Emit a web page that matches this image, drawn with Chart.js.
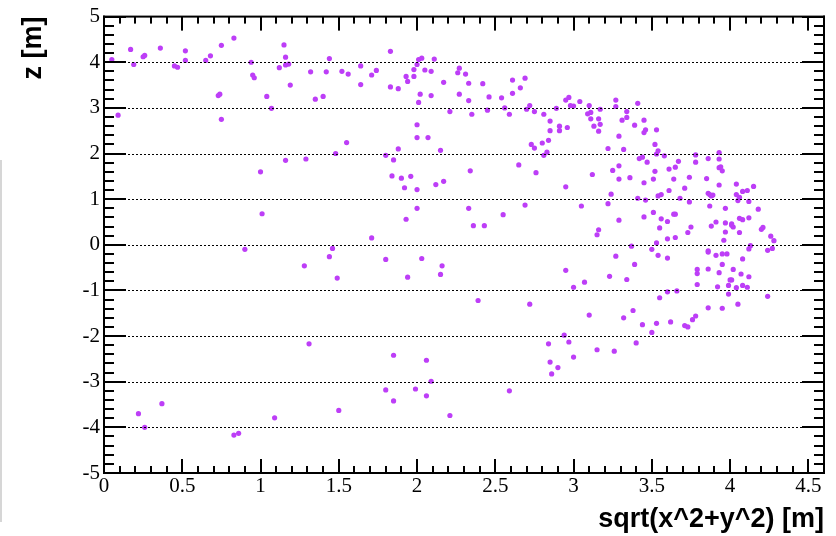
<!DOCTYPE html>
<html>
<head>
<meta charset="utf-8">
<script src="https://cdn.jsdelivr.net/npm/chart.js@4/dist/chart.umd.min.js"></script>
<style>
  html, body { margin: 0; padding: 0; background: #fff; }
</style>
</head>
<body>
<canvas id="scatterChart" width="836" height="536"></canvas>
<script>
// radial distance sqrt(x^2+y^2) [m]
const rVals = [
  0.05, 0.09, 0.17, 0.19, 0.25, 0.26, 0.36, 0.45, 0.47, 0.52, 0.52, 0.65, 0.68, 0.75, 0.83, 0.73, 0.74, 0.75,
  0.94, 0.95, 0.96, 1.04, 1.07, 1.12, 1.00, 1.01, 0.90,
  1.15, 1.16, 1.16, 1.18, 1.19, 1.32, 1.35, 1.40, 1.44, 1.42, 1.52, 1.56, 1.64, 1.64, 1.71, 1.74, 1.83, 1.83,
  1.88, 1.93, 1.94, 1.98, 1.98, 2.00, 2.01, 2.03, 2.02, 2.01, 2.05, 2.09, 2.11, 2.09, 2.17, 2.21, 2.26, 2.27,
  2.31, 2.27, 2.33, 2.33, 2.35, 2.42, 2.46, 2.45, 2.54, 2.56, 2.59, 2.61, 2.61, 2.66, 2.69, 2.70, 2.72, 2.75,
  2.81, 2.85, 2.85, 2.84, 2.83, 2.80, 2.73, 2.75, 2.81, 2.65, 2.76, 2.69, 2.55, 2.43, 2.36, 2.33, 2.34, 2.00,
  2.00, 2.07, 2.15, 1.88, 1.80, 1.85, 1.84, 1.90, 1.96, 1.92, 2.00, 2.12, 2.17, 2.00, 1.93, 1.71, 1.46, 1.55,
  1.48, 1.29, 1.16,
  2.89, 2.91, 2.91, 2.95, 2.97, 2.98, 3.00, 3.04, 2.96, 2.95, 3.05, 3.10, 3.09, 3.11, 3.11, 3.13, 3.16, 3.17,
  3.16, 3.17, 3.22, 3.12, 3.25, 3.24, 3.22, 3.29, 3.29, 3.29, 3.16, 3.15, 3.27, 3.27, 3.29, 3.31, 3.34, 3.34,
  3.32, 3.36, 3.39, 3.41, 3.45, 3.45, 3.46, 3.53, 3.42, 3.44, 3.47, 3.45, 3.41, 3.46, 3.45, 3.52, 3.53, 3.54,
  3.58, 3.52, 3.51, 3.54, 3.56, 3.51, 3.55, 3.56, 3.60, 3.61, 3.61, 3.65, 3.67, 3.64, 3.68, 3.71, 3.64, 3.65,
  3.60, 3.65, 3.53, 3.50, 3.37, 3.74, 3.74, 3.75, 3.73, 3.78, 3.78, 3.86, 3.85, 3.86, 3.87, 3.88, 3.89, 3.87,
  3.88, 3.91, 3.93, 3.93, 3.93, 3.94, 3.95, 3.93, 3.97, 3.97, 3.97, 3.96, 4.01, 4.02, 4.01, 4.06, 4.04, 4.04,
  4.05, 4.06, 4.08, 4.11, 4.12, 4.15, 4.06, 4.08, 4.12, 4.18, 4.20, 4.21, 4.26, 4.28, 4.27, 4.24, 4.13, 4.12,
  3.86,
  1.44, 1.28, 1.49, 1.80, 2.03, 1.94, 2.16, 2.15, 2.39, 2.72, 1.31, 1.85, 2.06, 2.09, 1.80, 1.99, 2.06, 1.85,
  1.50, 1.09, 2.21, 2.59,
  0.22, 0.26, 0.37, 0.83, 0.86,
  2.84, 2.85, 2.86, 2.90, 2.94, 2.97, 3.00, 2.95, 3.00, 3.07, 3.10, 3.15, 3.26, 3.23, 3.27, 3.34, 3.32, 3.38,
  3.40, 3.39, 3.44, 3.50, 3.53, 3.54, 3.60, 3.55, 3.60, 3.66, 3.62, 3.71, 3.73, 3.76, 3.78, 3.79, 3.79, 3.79,
  3.86, 3.86, 3.86, 3.91, 3.93, 3.92, 3.95, 3.98, 3.95, 3.95, 3.99, 3.99, 4.00, 4.01, 4.02, 4.04, 4.05, 4.07,
  4.08, 4.08, 4.11, 4.12, 4.24
];
// z [m]
const zVals = [
  4.06, 2.84, 4.28, 3.95, 4.12, 4.15, 4.31, 3.92, 3.89, 4.25, 4.04, 4.04, 4.14, 4.37, 4.53, 3.27, 3.30, 2.75,
  4.00, 3.72, 3.66, 3.25, 2.99, 3.88, 1.60, 0.68, -0.10,
  4.38, 4.11, 3.94, 3.96, 3.50, 3.79, 3.19, 3.25, 4.08, 3.79, 3.80, 3.74, 3.92, 3.51, 3.72, 3.82, 4.24, 3.46,
  3.42, 3.69, 3.58, 3.84, 3.69, 3.95, 4.06, 4.09, 3.30, 3.12, 3.83, 3.80, 4.07, 3.27, 3.56, 2.92, 3.77, 3.87,
  3.74, 3.30, 3.54, 3.16, 2.86, 3.53, 3.24, 2.95, 3.22, 3.00, 2.86, 3.61, 3.32, 3.44, 3.65, 2.97, 3.05, 2.92,
  2.86, 2.71, 2.50, 2.29, 2.03, 2.23, 2.20, 2.12, 1.96, 1.75, 1.58, 0.87, 0.66, 0.42, 0.42, 0.80, 1.62, 2.63,
  2.35, 2.35, 2.07, 2.10, 1.96, 1.86, 1.51, 1.46, 1.50, 1.25, 1.21, 1.32, 1.39, 0.80, 0.56, 0.15, -0.08, 2.24,
  2.00, 1.88, 1.85,
  2.99, 2.60, 2.50, 3.17, 3.23, 3.05, 3.04, 3.14, 2.57, 1.27, 0.85, 3.05, 2.87, 2.90, 2.76, 2.60, 2.76, 2.64,
  2.49, 2.97, 2.11, 1.54, 1.63, 1.11, 0.90, 1.73, 1.44, 0.54, 0.33, 0.22, 3.17, 3.03, 2.38, 2.73, 2.92, 2.79,
  2.09, 1.47, 2.62, 3.10, 2.73, 2.46, 2.52, 2.52, 1.89, 1.92, 1.81, 1.36, 1.02, 0.98, 0.61, 2.20, 1.99, 2.06,
  1.95, 1.61, 1.44, 1.07, 1.10, 0.71, 0.37, 0.57, 0.51, 1.19, 1.66, 1.70, 1.83, 1.44, 1.02, 1.24, 0.67, 0.67,
  0.13, 0.16, 0.04, -0.10, -0.03, 1.48, 0.94, 0.39, 0.27, 1.97, 1.81, 1.89, 1.45, 1.13, 1.10, 1.07, 1.09, 0.85,
  0.41, 0.50, 2.02, 1.88, 1.69, 1.71, 1.62, 1.31, 0.80, 0.48, 0.28, 0.10, 0.46, 0.39, 0.43, 0.27, 1.33, 1.10,
  0.97, 1.04, 1.17, 1.19, 0.95, 1.28, 0.58, 0.55, 0.59, 0.78, 0.34, 0.38, 0.19, 0.09, -0.08, -0.12, -0.02, -0.09,
  -0.13,
  -0.26, -0.46, -0.73, -0.32, -0.30, -0.71, -0.46, -0.65, -1.22, -1.30, -2.17, -2.42, -2.53, -2.99, -3.18, -3.16, -3.31, -3.42,
  -3.63, -3.79, -3.74, -3.20,
  -3.70, -4.00, -3.48, -4.17, -4.13,
  -2.17, -2.57, -2.83, -2.69, -1.98, -2.13, -2.46, -0.56, -0.93, -0.82, -1.54, -2.30, -2.33, -0.69, -0.25, -0.76, -1.60, -1.44,
  -2.15, -0.43, -1.75, -1.92, -1.72, -0.23, -0.29, -1.16, -1.03, -1.01, -1.69, -1.77, -1.80, -1.64, -1.56, -0.54, -0.63, -0.87,
  -0.16, -0.53, -1.38, -0.23, -0.61, -0.92, -0.20, -0.20, -0.43, -1.39, -1.08, -0.89, -0.77, -0.77, -0.54, -0.94, -1.30, -0.64,
  -0.31, -0.89, -0.93, -0.70, -1.13
];

const xTickLabels = ['0', '0.5', '1', '1.5', '2', '2.5', '3', '3.5', '4', '4.5'];
const yTickLabels = ['-5', '-4', '-3', '-2', '-1', '0', '1', '2', '3', '4', '5'];

const points = rVals.map((r, i) => ({ x: r, y: zVals[i] }));

// ROOT style frame: dotted horizontal grid, inward ticks on all four sides
const rootFrame = {
    id: 'rootFrame',
    afterDraw(chart) {
        const c = chart.ctx;
        const a = chart.chartArea;
        c.save();
        c.fillStyle = '#000';
        for (let v = -4; v <= 4; v++) {
            const py = Math.round(chart.scales.y.getPixelForValue(v));
            for (let px = Math.round(a.left) + 24; px < a.right - 22; px += 4) {
                c.fillRect(px, py, 2, 1);
            }
        }
        for (let i = 0; i <= 46; i++) {
            const px = Math.round(chart.scales.x.getPixelForValue(i / 10));
            const len = (i % 5 === 0) ? 14 : 7;
            c.fillRect(px - 1, a.bottom - len, 2, len);
            c.fillRect(px - 1, a.top, 2, len);
        }
        for (let i = -25; i <= 25; i++) {
            const py = Math.round(chart.scales.y.getPixelForValue(i / 5));
            const len = (Math.abs(i) % 5 === 0) ? 22 : 10;
            c.fillRect(a.left, py - 1, len, 2);
            c.fillRect(a.right - len, py - 1, len, 2);
        }
        // frame
        c.fillRect(a.left - 1, a.top - 1, a.right - a.left + 2, 2);
        c.fillRect(a.left - 1, a.bottom - 1, a.right - a.left + 2, 2);
        c.fillRect(a.left - 1, a.top - 1, 2, a.bottom - a.top + 2);
        c.fillRect(a.right - 1, a.top - 1, 2, a.bottom - a.top + 2);
        // faint grey edge at the left of the picture
        c.fillStyle = '#d6d6d6';
        c.fillRect(0, 160, 2, 362);
        c.restore();
    }
};

const serif = "'Liberation Serif', 'Times New Roman', serif";
const sans = "'Liberation Sans', Arial, sans-serif";

new Chart(document.getElementById('scatterChart').getContext('2d'), {
    type: 'scatter',
    data: {
        datasets: [{
            data: points,
            backgroundColor: '#bd3ef7',
            borderWidth: 0,
            pointRadius: 2.6,
            pointHoverRadius: 2.6
        }]
    },
    options: {
        responsive: false,
        animation: false,
        layout: { padding: { left: 0, top: 11.4, right: 12, bottom: 0 } },
        plugins: {
            legend: { display: false },
            tooltip: { enabled: false }
        },
        scales: {
            x: {
                type: 'linear',
                min: 0,
                max: 4.6,
                grid: { display: false, drawTicks: false },
                border: { display: false },
                ticks: {
                    stepSize: 0.5,
                    includeBounds: false,
                    maxRotation: 0,
                    autoSkip: false,
                    padding: 1,
                    color: '#000',
                    font: { family: serif, size: 21 },
                    callback: (v, i) => xTickLabels[i]
                },
                title: {
                    display: true,
                    text: 'sqrt(x^2+y^2) [m]',
                    align: 'end',
                    color: '#000',
                    font: { family: sans, size: 27, weight: 'bold', lineHeight: 1 },
                    padding: { top: 0, bottom: 3 }
                },
                afterFit: s => { s.height = 63; }
            },
            y: {
                type: 'linear',
                min: -5,
                max: 5,
                grid: { display: false, drawTicks: false },
                border: { display: false },
                ticks: {
                    stepSize: 1,
                    autoSkip: false,
                    padding: 4,
                    color: '#000',
                    font: { family: serif, size: 21 },
                    callback: (v, i) => yTickLabels[i]
                },
                title: {
                    display: true,
                    text: 'z [m]',
                    align: 'end',
                    color: '#000',
                    font: { family: sans, size: 27, weight: 'bold', lineHeight: 1 },
                    padding: { top: 20, bottom: 0 }
                },
                afterFit: s => { s.width = 104; }
            }
        }
    },
    plugins: [rootFrame]
});
</script>
</body>
</html>
